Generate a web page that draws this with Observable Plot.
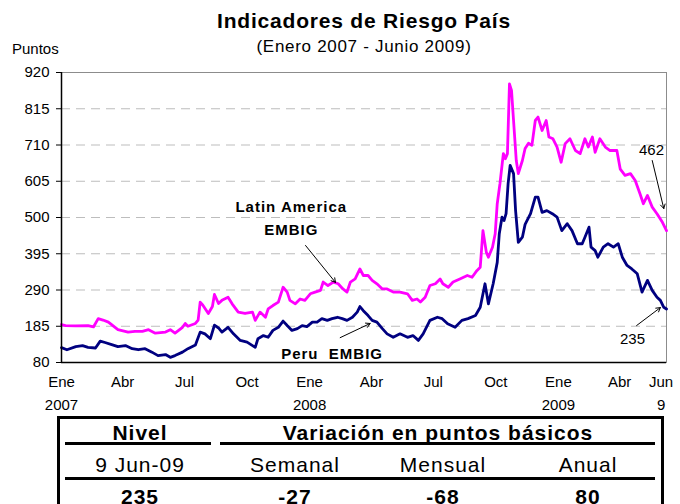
<!DOCTYPE html>
<html><head><meta charset="utf-8">
<script src="https://cdn.jsdelivr.net/npm/d3@7"></script>
<script src="https://cdn.jsdelivr.net/npm/@observablehq/plot@0.6"></script>
<style>
body{margin:0;background:#fff;font-family:"Liberation Sans",Arial,sans-serif;color:#000;}
#wrap{position:relative;width:680px;height:504px;overflow:hidden;background:#fff;}
.abs{position:absolute;white-space:nowrap;}
#chart g[font-weight="bold"] text{letter-spacing:1px;}
.t{font-size:21px;line-height:21px;text-align:center;letter-spacing:1px;}
.b{font-weight:bold;}
.hl{position:absolute;background:#000;height:3px;}
</style></head><body>
<div id="wrap">
  <div id="chart" class="abs" style="left:0;top:0"></div>
  <div class="abs b" style="left:64px;width:600px;top:10px;text-align:center;font-size:21px;line-height:21px;letter-spacing:0.8px;">Indicadores de Riesgo País</div>
  <div class="abs" style="left:64px;width:600px;top:38px;text-align:center;font-size:17px;line-height:17px;letter-spacing:0.7px;">(Enero 2007 - Junio 2009)</div>
  <div class="abs" style="left:12px;top:41px;font-size:15px;line-height:15px;">Puntos</div>
  <div class="abs" style="left:57px;top:416px;width:607px;height:120px;border:3px solid #000;box-sizing:border-box;"></div>
  <div class="hl" style="left:65px;width:146px;top:442px;"></div>
  <div class="hl" style="left:220px;width:435px;top:442px;"></div>
  <div class="hl" style="left:65px;width:590px;top:477px;"></div>
  <div id="table"></div>
</div>
<script>
// ---- data ----
const laDates = ["2007-01-01","2007-01-07","2007-01-22","2007-02-09","2007-02-17","2007-02-24","2007-03-03","2007-03-11","2007-03-25","2007-04-09","2007-04-19","2007-04-30","2007-05-09","2007-05-19","2007-06-03","2007-06-10","2007-06-17","2007-06-28","2007-07-02","2007-07-06","2007-07-17","2007-07-21","2007-07-24","2007-07-28","2007-08-05","2007-08-11","2007-08-14","2007-08-20","2007-08-25","2007-09-03","2007-09-09","2007-09-18","2007-09-28","2007-10-09","2007-10-13","2007-10-20","2007-10-28","2007-11-01","2007-11-08","2007-11-16","2007-11-23","2007-11-29","2007-12-03","2007-12-11","2007-12-18","2007-12-25","2008-01-02","2008-01-09","2008-01-17","2008-01-21","2008-01-28","2008-02-05","2008-02-12","2008-02-19","2008-02-25","2008-03-01","2008-03-08","2008-03-15","2008-03-20","2008-03-27","2008-04-02","2008-04-09","2008-04-17","2008-04-24","2008-05-03","2008-05-13","2008-05-24","2008-05-31","2008-06-07","2008-06-12","2008-06-19","2008-06-26","2008-07-04","2008-07-11","2008-07-15","2008-07-23","2008-07-30","2008-08-09","2008-08-20","2008-08-27","2008-09-03","2008-09-08","2008-09-12","2008-09-17","2008-09-20","2008-09-26","2008-09-30","2008-10-03","2008-10-07","2008-10-12","2008-10-15","2008-10-18","2008-10-21","2008-10-24","2008-10-27","2008-10-31","2008-11-03","2008-11-09","2008-11-13","2008-11-18","2008-11-23","2008-11-28","2008-12-02","2008-12-08","2008-12-14","2008-12-18","2008-12-24","2008-12-30","2009-01-05","2009-01-11","2009-01-18","2009-01-26","2009-02-02","2009-02-09","2009-02-14","2009-02-20","2009-02-24","2009-03-03","2009-03-11","2009-03-18","2009-03-28","2009-04-02","2009-04-09","2009-04-17","2009-04-24","2009-05-01","2009-05-06","2009-05-12","2009-05-19","2009-05-26","2009-06-03","2009-06-09"];
const laValues = [190,187,186,187,183,207,203,197,175,168,170,170,175,165,168,175,165,182,193,185,193,203,255,246,222,242,277,251,260,269,250,226,222,226,202,226,211,235,245,255,298,284,260,250,264,260,279,284,289,313,303,313,308,293,284,313,322,351,332,332,318,308,293,293,284,284,279,260,264,255,269,303,308,322,308,298,313,322,332,327,346,356,462,399,385,414,453,540,598,685,670,685,887,868,781,665,627,665,700,715,709,781,791,752,781,733,728,704,660,714,728,694,685,728,704,733,689,728,704,694,694,640,622,627,607,569,540,564,530,511,486,462];

const peDates = ["2007-01-01","2007-01-09","2007-01-22","2007-02-01","2007-02-09","2007-02-20","2007-02-27","2007-03-06","2007-03-17","2007-03-25","2007-04-05","2007-04-15","2007-04-24","2007-05-04","2007-05-14","2007-05-23","2007-06-03","2007-06-10","2007-06-17","2007-06-28","2007-07-06","2007-07-17","2007-07-24","2007-07-31","2007-08-08","2007-08-14","2007-08-20","2007-08-25","2007-09-03","2007-09-11","2007-09-21","2007-10-01","2007-10-09","2007-10-13","2007-10-17","2007-10-25","2007-11-01","2007-11-08","2007-11-16","2007-11-23","2007-11-29","2007-12-06","2007-12-14","2007-12-21","2007-12-28","2008-01-05","2008-01-12","2008-01-19","2008-01-27","2008-02-03","2008-02-11","2008-02-18","2008-02-25","2008-03-04","2008-03-11","2008-03-15","2008-03-20","2008-03-27","2008-04-02","2008-04-09","2008-04-17","2008-04-24","2008-05-03","2008-05-13","2008-05-24","2008-06-01","2008-06-09","2008-06-16","2008-06-26","2008-07-07","2008-07-14","2008-07-22","2008-08-02","2008-08-12","2008-08-21","2008-09-01","2008-09-08","2008-09-15","2008-09-20","2008-09-27","2008-10-03","2008-10-06","2008-10-10","2008-10-13","2008-10-16","2008-10-19","2008-10-22","2008-10-27","2008-10-30","2008-11-03","2008-11-09","2008-11-13","2008-11-21","2008-11-28","2008-12-02","2008-12-08","2008-12-15","2008-12-23","2008-12-30","2009-01-06","2009-01-14","2009-01-21","2009-01-29","2009-02-05","2009-02-09","2009-02-15","2009-02-18","2009-02-24","2009-02-28","2009-03-08","2009-03-15","2009-03-23","2009-03-30","2009-04-05","2009-04-12","2009-04-19","2009-04-27","2009-05-04","2009-05-12","2009-05-19","2009-05-26","2009-05-31","2009-06-05","2009-06-09"];
const peValues = [123,117,126,129,124,122,142,138,131,126,129,120,117,120,110,100,103,95,100,110,120,131,168,163,149,188,180,168,182,163,144,139,129,124,149,158,153,173,182,200,187,173,178,187,184,197,197,207,202,207,211,207,202,211,226,242,230,216,202,197,178,163,153,163,153,158,144,163,202,211,207,192,182,202,207,216,240,308,250,308,370,453,501,491,511,598,651,627,520,428,443,480,511,559,559,515,520,511,501,462,482,462,424,424,443,472,414,404,385,414,424,414,424,385,361,351,337,284,318,289,269,260,240,235];

const seriesNames = ["Latin America EMBIG", "Peru EMBIG"];
const seriesColors = ["#ff00ff", "#000080"];

const yTicks = [80,185,290,395,500,605,710,815,920];
const xTickDates = ["2007-01-01","2007-04-01","2007-07-01","2007-10-01","2008-01-01","2008-04-01","2008-07-01","2008-10-01","2009-01-01","2009-04-01","2009-06-01"];
const xTickLabels = ["Ene\n2007","Abr","Jul","Oct","Ene\n2008","Abr","Jul","Oct","Ene\n2009","Abr","Jun\n9"];
const xDomain = ["2007-01-01","2009-06-09"];

const noteTexts = ["Latin America\nEMBIG","Peru  EMBIG","462","235"];
const noteDates = ["2007-12-05","2008-02-03","2009-05-18","2009-04-20"];
const noteValues = [505,112,694,147];
const noteBold = [true,true,false,false];
const arrowFrom = [["2007-12-26",419],["2008-02-15",152],["2009-05-19",665],["2009-04-26",187]];
const arrowTo = [["2008-02-08",312],["2008-03-30",193],["2009-06-05",526],["2009-05-31",239]];

const tableHead = ["Nivel","Variación en puntos básicos"];
const tableSub = ["9 Jun-09","Semanal","Mensual","Anual"];
const tableVals = ["235","-27","-68","80"];

// ---- build ----
const D = s => new Date(s);
const la = laDates.map((d,i)=>({date:D(d), value:laValues[i], s:seriesNames[0]}));
const pe = peDates.map((d,i)=>({date:D(d), value:peValues[i], s:seriesNames[1]}));
const xt = xTickDates.map((d,i)=>({date:D(d), label:xTickLabels[i]}));
const notes = noteTexts.map((t,i)=>({text:t, date:D(noteDates[i]), value:noteValues[i], bold:noteBold[i]}));
const arrows = arrowFrom.map((f,i)=>({x1:D(f[0]), y1:f[1], x2:D(arrowTo[i][0]), y2:arrowTo[i][1]}));

const chart = Plot.plot({
  width: 680, height: 420,
  marginTop: 72, marginBottom: 58, marginLeft: 61, marginRight: 14,
  x: {type: "utc", domain: xDomain.map(D), axis: null},
  y: {domain: [80, 920], axis: null},
  style: {fontFamily: "'Liberation Sans', Arial, sans-serif", fontSize: "15px", background: "transparent", color: "#000", overflow: "visible"},
  marks: [
    Plot.ruleY(yTicks.slice(1, -1), {stroke: "#bdbdbd", strokeWidth: 1, strokeDasharray: "9,6"}),
    Plot.frame({stroke: "#8c8c8c", strokeWidth: 1}),
    Plot.line(la, {x: "date", y: "value", stroke: seriesColors[0], strokeWidth: 2.8, strokeLinejoin: "round"}),
    Plot.line(pe, {x: "date", y: "value", stroke: seriesColors[1], strokeWidth: 2.8, strokeLinejoin: "round"}),
    Plot.ruleX([D(xDomain[0])], {stroke: "#000", strokeWidth: 1.5}),
    Plot.ruleY([80], {stroke: "#000", strokeWidth: 1.5}),
    Plot.axisY(yTicks, {anchor: "left", tickSize: 5, tickPadding: 7, fontSize: 15, stroke: "#000"}),
    Plot.text(xt, {x: "date", text: "label", frameAnchor: "bottom", lineAnchor: "top", dy: 8, lineHeight: 1.53, fontSize: 15, fill: "#000"}),
    Plot.text(notes.filter(n => n.bold), {x: "date", y: "value", text: "text", fontWeight: "bold", fontSize: 15, lineHeight: 1.53, fill: "#000"}),
    Plot.text(notes.filter(n => !n.bold), {x: "date", y: "value", text: "text", fontSize: 15, fill: "#000"}),
    Plot.arrow(arrows, {x1: "x1", y1: "y1", x2: "x2", y2: "y2", stroke: "#000", strokeWidth: 1, headLength: 7, bend: 0})
  ]
});
document.getElementById("chart").appendChild(chart);

// table texts
const colCenters = [140, 295, 443, 588];
const tb = document.getElementById("table");
function addText(txt, cx, top, bold, w){
  const d = document.createElement("div");
  d.className = "abs t" + (bold ? " b" : "");
  d.style.left = (cx - w/2) + "px";
  d.style.width = w + "px";
  d.style.top = top + "px";
  d.textContent = txt;
  tb.appendChild(d);
}
addText(tableHead[0], colCenters[0], 422, true, 140);
addText(tableHead[1], 438, 422, true, 420);
tableSub.forEach((t,i)=>addText(t, colCenters[i], 454, false, 140));
tableVals.forEach((t,i)=>addText(t, colCenters[i], 486, true, 140));
</script>
</body></html>
